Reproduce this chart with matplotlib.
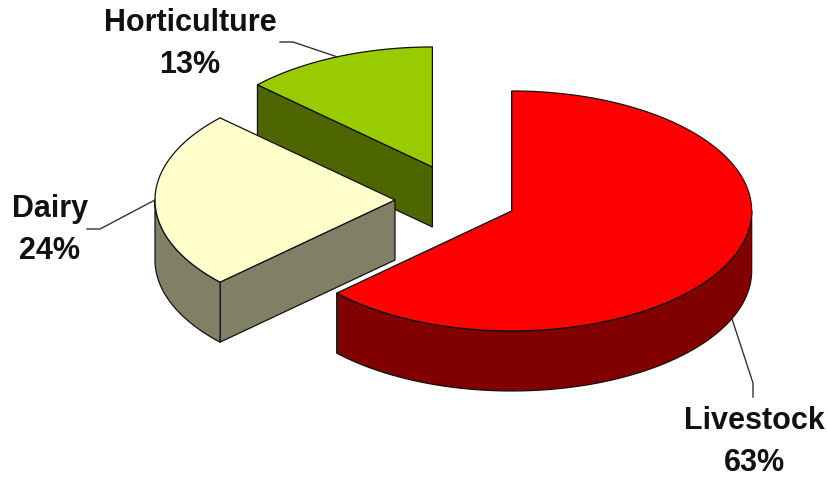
import numpy as np
import matplotlib
matplotlib.use("Agg")
import matplotlib.pyplot as plt
from matplotlib.patches import Polygon

# ---- data ----
labels = ["Livestock", "Dairy", "Horticulture"]
values = [63, 24, 13]
top_colors = ["#FF0000", "#FFFFCC", "#99CC00"]
side_colors = ["#800000", "#808066", "#4D6600"]
explode = [0.23, 0.275, 0.30]

# ---- layout ----
W, H = 828, 479
fig = plt.figure(figsize=(W / 100, H / 100), dpi=100)
ax = fig.add_axes([0, 0, 1, 1])
ax.set_xlim(0, W)
ax.set_ylim(H, 0)
ax.axis("off")

CX, CY = 461, 200
RX, RY = 240, 120
DEPTH = 60
EDGE = dict(edgecolor="#111111", linewidth=0.9, joinstyle="round")


def pt(theta, ox, oy, dz=0.0):
    t = np.radians(theta)
    return ox + RX * np.cos(t), oy - RY * np.sin(t) + dz


def arc(t1, t2, ox, oy, dz=0.0, n=120):
    ts = np.linspace(t1, t2, n)
    return [pt(t, ox, oy, dz) for t in ts]


total = float(sum(values))
slices = []
cum = 0.0
for i, v in enumerate(values):
    a_start = 90 - cum / total * 360
    a_end = a_start - v / total * 360
    cum += v
    mid = (a_start + a_end) / 2
    m = np.radians(mid)
    ox = CX + RX * explode[i] * np.cos(m)
    oy = CY - RY * explode[i] * np.sin(m)
    slices.append(dict(i=i, t1=a_end, t2=a_start, mid=mid, ox=ox, oy=oy))

# draw back to front
for s in sorted(slices, key=lambda s: s["oy"]):
    i, t1, t2, ox, oy = s["i"], s["t1"], s["t2"], s["ox"], s["oy"]
    # radial walls
    for th, nrm in ((t1, t1 - 90), (t2, t2 + 90)):
        if np.sin(np.radians(nrm)) < -1e-6:
            p = pt(th, ox, oy)
            poly = [(ox, oy), p, (p[0], p[1] + DEPTH), (ox, oy + DEPTH)]
            ax.add_patch(Polygon(poly, closed=True, facecolor=side_colors[i], **EDGE))
    # outer curved wall (front half)
    for k in range(-3, 3):
        lo, hi = -180 + 360 * k, 360 * k
        a, b = max(t1, lo), min(t2, hi)
        if b - a > 1e-6:
            top = arc(a, b, ox, oy)
            bot = arc(b, a, ox, oy, DEPTH)
            ax.add_patch(Polygon(top + bot, closed=True, facecolor=side_colors[i], **EDGE))
    # top face
    poly = [(ox, oy)] + arc(t1, t2, ox, oy)
    ax.add_patch(Polygon(poly, closed=True, facecolor=top_colors[i], **EDGE))

# ---- labels with leader lines ----
font = dict(family=["Liberation Sans", "DejaVu Sans"], fontweight="bold",
            fontsize=22, color="#111111", ha="center", va="center", linespacing=1.5)
lead = dict(color="#333333", linewidth=1.0)

by_name = {labels[s["i"]]: s for s in slices}

# Horticulture
s = by_name["Horticulture"]
e = pt(s["mid"], s["ox"], s["oy"])
ax.plot([e[0], 293, 280], [e[1], 42, 42], **lead)
ax.text(190, 44, f"Horticulture\n{values[2]}%", **font)

# Dairy
s = by_name["Dairy"]
e = pt(s["mid"], s["ox"], s["oy"])
ax.plot([e[0], 100, 87], [e[1], 229, 229], **lead)
ax.text(50, 230, f"Dairy\n{values[1]}%", **font)

# Livestock
s = by_name["Livestock"]
e = pt(s["mid"], s["ox"], s["oy"], DEPTH)
ax.plot([e[0], 753, 753], [e[1], 383, 397], **lead)
ax.text(754, 442, f"Livestock\n{values[0]}%", **font)

fig.savefig("out.png", dpi=100, facecolor="white")
